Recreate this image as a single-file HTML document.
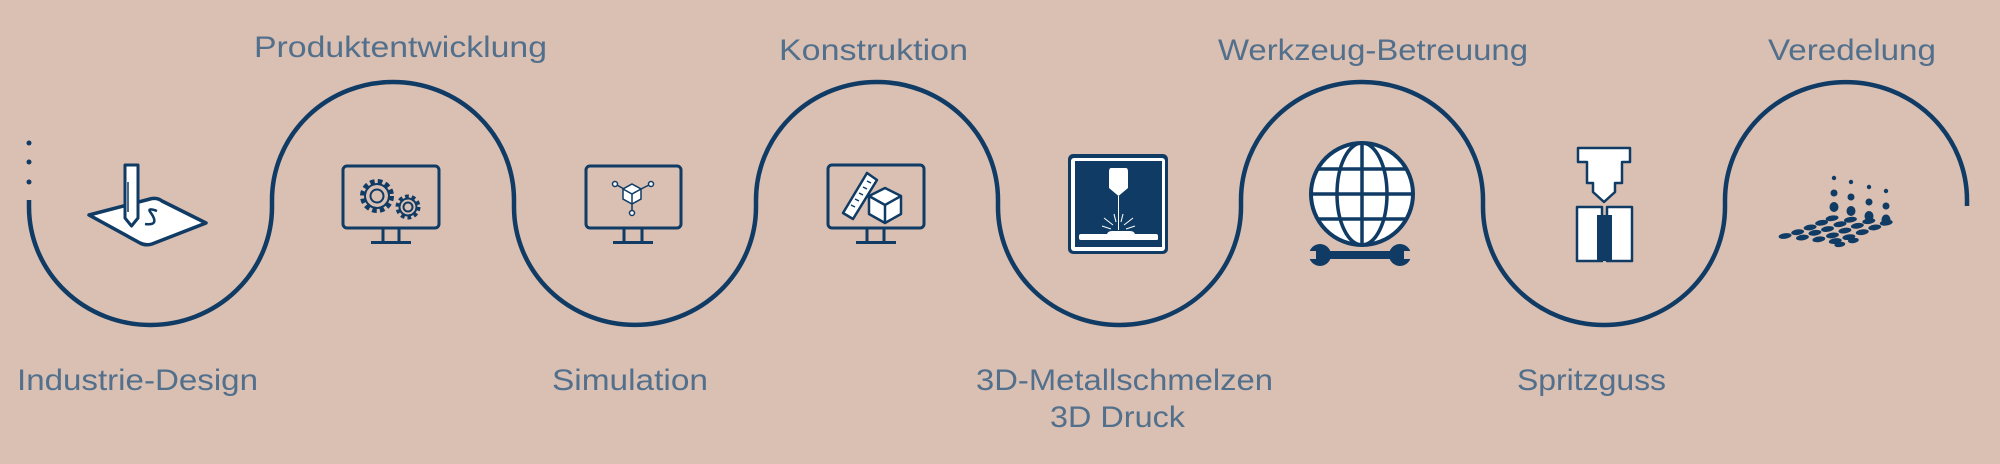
<!DOCTYPE html>
<html><head><meta charset="utf-8"><style>
html,body{margin:0;padding:0;background:#dabfb3;}
svg{display:block}
text{font-family:"Liberation Sans",sans-serif;font-size:30px;fill:#52708c;}
</style></head><body>
<svg width="2000" height="464" viewBox="0 0 2000 464" xmlns="http://www.w3.org/2000/svg">
<rect width="2000" height="464" fill="#dabfb3"/>
<g fill="#0f3b64"><circle cx="29" cy="143" r="2.5"/><circle cx="29" cy="162" r="2.5"/><circle cx="29" cy="182" r="2.5"/></g>
<path fill="none" stroke="#0f3b64" stroke-width="4.5" d="M29,200 L29,207 A121.5 118 0 0 0 272 207 L272,200 A121 118 0 0 1 514 200 L514,207 A121 118 0 0 0 756 207 L756,200 A121 118 0 0 1 998 200 L998,207 A121.5 118 0 0 0 1241 207 L1241,200 A121 118 0 0 1 1483 200 L1483,207 A121 118 0 0 0 1725 207 L1725,200 A121 118 0 0 1 1967 200 L1967,206"/>

<text x="17" y="390" textLength="241" lengthAdjust="spacingAndGlyphs">Industrie-Design</text>
<text x="254" y="57" textLength="293" lengthAdjust="spacingAndGlyphs">Produktentwicklung</text>
<text x="779" y="60" textLength="189" lengthAdjust="spacingAndGlyphs">Konstruktion</text>
<text x="552" y="390" textLength="156" lengthAdjust="spacingAndGlyphs">Simulation</text>
<text x="976" y="390" textLength="297" lengthAdjust="spacingAndGlyphs">3D-Metallschmelzen</text>
<text x="1050" y="427" textLength="135" lengthAdjust="spacingAndGlyphs">3D Druck</text>
<text x="1218" y="60" textLength="310" lengthAdjust="spacingAndGlyphs">Werkzeug-Betreuung</text>
<text x="1517" y="390" textLength="149" lengthAdjust="spacingAndGlyphs">Spritzguss</text>
<text x="1768" y="60" textLength="168" lengthAdjust="spacingAndGlyphs">Veredelung</text>

<g stroke="#0f3b64" stroke-width="3.5" stroke-linejoin="round">
<path d="M89,215 L150,199 Q157,197 162,201 L206,223 L152,244 Q146,246 140,243 Z" fill="#fff"/>
<path d="M145,224 Q160,226 151,213 Q146,207 157,211" fill="none" stroke-width="2.5"/>
<path d="M125,165 L138,165 L138,218 L131.5,226 L125,218 Z" fill="#fff" stroke-width="3"/>
<line x1="128" y1="182" x2="128" y2="212" stroke-width="1.5"/>
</g>

<g fill="none" stroke="#0f3b64" stroke-width="3">
<rect x="343" y="166" width="96" height="62" rx="4"/>
<line x1="383" y1="228" x2="383" y2="242"/><line x1="399" y1="228" x2="399" y2="242"/>
<line x1="371" y1="242.5" x2="411" y2="242.5"/>
<rect x="586" y="166" width="95" height="62" rx="4"/>
<line x1="624" y1="228" x2="624" y2="242"/><line x1="642" y1="228" x2="642" y2="242"/>
<line x1="613" y1="242.5" x2="653" y2="242.5"/>
<rect x="828" y="165" width="96" height="63" rx="4"/>
<line x1="867" y1="228" x2="867" y2="242"/><line x1="884" y1="228" x2="884" y2="242"/>
<line x1="856" y1="242.5" x2="896" y2="242.5"/>
</g>
<g fill="none" stroke="#0f3b64" stroke-width="2">
<circle cx="377" cy="196" r="14" stroke-width="6" stroke-dasharray="4.4 3"/>
<circle cx="377" cy="196" r="12"/>
<circle cx="377" cy="196" r="6.5"/>
<circle cx="408" cy="207" r="10" stroke-width="5" stroke-dasharray="3.5 2.8"/>
<circle cx="408" cy="207" r="8.5"/>
<circle cx="408" cy="207" r="4.5"/>
</g>
<g stroke="#0f3b64" stroke-width="1.5" fill="#fff">
<line x1="615" y1="184" x2="624" y2="189"/><line x1="651" y1="184" x2="641" y2="189"/><line x1="632" y1="203" x2="632" y2="212"/>
<path d="M632,184 L641,189 L641,199 L632,204 L623,199 L623,189 Z"/>
<path d="M623,189 L632,194 L641,189 M632,194 L632,204" fill="none"/>
<circle cx="615" cy="184" r="2.5"/><circle cx="651" cy="184" r="2.5"/><circle cx="632" cy="213" r="2.5"/>
</g>
<g stroke="#0f3b64" stroke-width="2.5" fill="#fff" stroke-linejoin="round">
<path d="M843,213 L853,219 L877,180 L867,173 Z"/>
<path d="M851,205 l4,2 M855,199 l4,2 M859,193 l4,2 M863,187 l4,2 M867,181 l4,2" fill="none" stroke-width="1.5"/>
<path d="M885,188 L901,196 L901,214 L885,223 L869,214 L869,196 Z"/>
<path d="M869,196 L885,205 L901,196 M885,205 L885,223" fill="none"/>
</g>

<rect x="1068" y="154" width="100" height="100" rx="5" fill="#0f3b64"/>
<rect x="1071" y="158" width="94" height="93" rx="3" fill="#fff"/>
<rect x="1075" y="161" width="87" height="86" fill="#0f3b64"/>
<path d="M1111,168 L1126,168 Q1128,168 1128,172 L1128,188 L1118.5,196 L1109,188 L1109,172 Q1109,168 1111,168 Z" fill="#fff"/>
<line x1="1118.5" y1="196" x2="1118.5" y2="230" stroke="#fff" stroke-width="1"/>
<g stroke="#fff" stroke-width="1"><line x1="1104" y1="218" x2="1113" y2="225"/><line x1="1102" y1="226" x2="1111" y2="229"/><line x1="1133" y1="218" x2="1124" y2="225"/><line x1="1135" y1="226" x2="1126" y2="229"/><line x1="1114" y1="214" x2="1116" y2="222"/><line x1="1123" y1="214" x2="1121" y2="222"/></g>
<path d="M1081,234 L1107,234 Q1108,231 1112,231 L1130,231 Q1134,231 1135,234 L1156,234 Q1158,234 1158,236 L1158,239 Q1158,240 1156,240 L1081,240 Q1079,240 1079,238 L1079,236 Q1079,234 1081,234 Z" fill="#fff"/>

<circle cx="1362" cy="194" r="51" fill="#fff" stroke="#0f3b64" stroke-width="4"/>
<g fill="none" stroke="#0f3b64" stroke-width="3.5">
<ellipse cx="1362" cy="194" rx="25" ry="51"/>
<line x1="1362" y1="143" x2="1362" y2="245"/>
<line x1="1311" y1="194" x2="1413" y2="194"/>
<line x1="1318" y1="169" x2="1406" y2="169"/>
<line x1="1318" y1="219" x2="1406" y2="219"/>
</g>
<g fill="#0f3b64">
<rect x="1318" y="251" width="84" height="8"/>
<circle cx="1320" cy="255" r="11"/>
<circle cx="1400" cy="255" r="11"/>
</g>
<g fill="#dabfb3">
<rect x="1306" y="251" width="10" height="8"/>
<rect x="1404" y="251" width="10" height="8"/>
</g>

<g stroke="#0f3b64" stroke-width="2.5" fill="#fff" stroke-linejoin="round">
<path d="M1578,148 L1630,148 L1630,162 L1622,162 L1622,183 L1615,183 L1615,192 L1604,202 L1593,192 L1593,183 L1587,183 L1587,162 L1578,162 Z"/>
<rect x="1577" y="207" width="25" height="54"/>
<rect x="1607" y="207" width="25" height="54"/>
</g>
<rect x="1597" y="215" width="15" height="46" fill="#0f3b64"/>
<line x1="1602" y1="206" x2="1602" y2="215" stroke="#0f3b64" stroke-width="2"/>
<line x1="1607" y1="206" x2="1607" y2="215" stroke="#0f3b64" stroke-width="2"/>

<g fill="#0f3b64">
<circle cx="1834" cy="178" r="2.2"/><circle cx="1851" cy="182" r="2.2"/><circle cx="1869" cy="187" r="2.2"/><circle cx="1886" cy="191" r="2.2"/>
<circle cx="1834" cy="193" r="3.5"/><circle cx="1851" cy="197" r="3.5"/><circle cx="1869" cy="202" r="3.5"/><circle cx="1886" cy="206" r="3.5"/>
<ellipse cx="1834" cy="207" rx="4.5" ry="5"/><ellipse cx="1851" cy="211" rx="4.5" ry="5"/><ellipse cx="1869" cy="216" rx="4.5" ry="5"/><ellipse cx="1886" cy="220" rx="4.5" ry="5.5"/>
<g transform="rotate(-8 1835 232)">
<ellipse cx="1785" cy="229" rx="6.5" ry="2.8"/>
<ellipse cx="1798" cy="227" rx="6.5" ry="2.8"/>
<ellipse cx="1811" cy="224" rx="6.5" ry="2.8"/>
<ellipse cx="1823" cy="221" rx="6.5" ry="2.8"/>
<ellipse cx="1834" cy="218" rx="6.5" ry="2.8"/>
<ellipse cx="1802" cy="233" rx="6.5" ry="2.8"/>
<ellipse cx="1815" cy="230" rx="6.5" ry="2.8"/>
<ellipse cx="1828" cy="228" rx="6.5" ry="2.8"/>
<ellipse cx="1841" cy="225" rx="6.5" ry="2.8"/>
<ellipse cx="1852" cy="222" rx="6.5" ry="2.8"/>
<ellipse cx="1818" cy="237" rx="6.5" ry="2.8"/>
<ellipse cx="1832" cy="235" rx="6.5" ry="2.8"/>
<ellipse cx="1845" cy="232" rx="6.5" ry="2.8"/>
<ellipse cx="1858" cy="229" rx="6.5" ry="2.8"/>
<ellipse cx="1870" cy="226" rx="6.5" ry="2.8"/>
<ellipse cx="1834" cy="241" rx="6.5" ry="2.8"/>
<ellipse cx="1848" cy="239" rx="6.5" ry="2.8"/>
<ellipse cx="1862" cy="236" rx="6.5" ry="2.8"/>
<ellipse cx="1875" cy="233" rx="6.5" ry="2.8"/>
<ellipse cx="1887" cy="230" rx="6.5" ry="2.8"/>
<ellipse cx="1838" cy="245" rx="5.5" ry="2.6"/>
<ellipse cx="1852" cy="243" rx="5.5" ry="2.6"/>
</g>
</g>
</svg>
</body></html>
